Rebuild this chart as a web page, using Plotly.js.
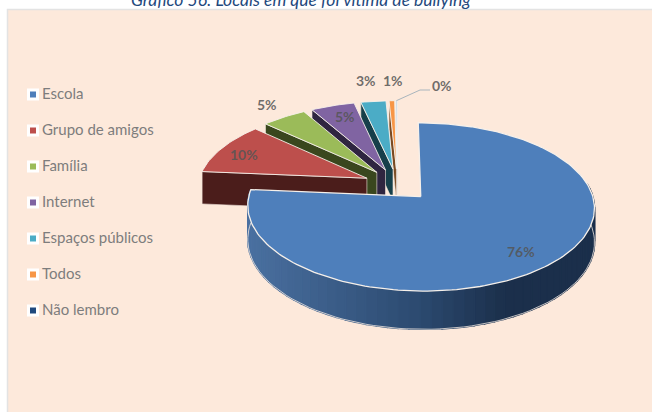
<!DOCTYPE html>
<html><head><meta charset="utf-8">
<script src="https://cdn.plot.ly/plotly-3.0.1.min.js"></script>
<style>html,body{margin:0;padding:0;background:#fff;overflow:hidden}</style>
</head><body><div id="chart" style="width:652px;height:412px"></div>
<script>
const categories = ["Escola","Grupo de amigos","Família","Internet","Espaços públicos","Todos","Não lembro"];
const values = [75.6,10.4,4.8,4.7,2.7,0.6,0.2];
const valueLabels = ["76%","10%","5%","5%","3%","1%","0%"];
const colors = ["#4e7fbb","#bd4f4c","#9bbb59","#8064a2","#4bacc6","#f79646","#1f497d"];
const faceColors = ["#2c4a70","#4b1d1b","#3a471e","#2f2540","#163f4a","#7a4a22","#c9d6e4"];
const labelAnchors = [[521,251],[244,154],[267,104],[345,116],[366,80],[393,80],[442,85]];
const legendTop = 94.5, legendStep = 36, legendX = 33;

// projection of the tilted pie
const R = 169, A = 80, K = 0.12, OX = 397.5, OY = 184.6, EXPLODE = 0.2, DEPTH = 33;
const proj = (u,v,drop) => {
  const s = 1/(1+K*v);
  return [OX + R*u*s, OY - A*v*s + (drop?DEPTH*s:0)];
};
const total = values.reduce((a,b)=>a+b,0);
const traces = [];
const poly = (pts,fill,line,lw) => traces.push({
  type:"scatter",mode:"lines",x:pts.map(p=>p[0]),y:pts.map(p=>p[1]),
  fill:"toself",fillcolor:fill,line:{color:line,width:lw},hoverinfo:"skip",showlegend:false});
const path = (pts,line,lw) => traces.push({
  type:"scatter",mode:"lines",x:pts.map(p=>p[0]),y:pts.map(p=>p[1]),
  line:{color:line,width:lw},hoverinfo:"skip",showlegend:false});
const mix = (a,b,t)=>"rgb("+a.map((c,i)=>Math.round(c+(b[i]-c)*t)).join(",")+")";

let acc = 0;
const slices = values.map((v,i)=>{
  const a0 = acc/total*2*Math.PI; acc += v;
  const a1 = acc/total*2*Math.PI; const m=(a0+a1)/2;
  return {i,a0,a1,cu:EXPLODE*Math.sin(m),cv:EXPLODE*Math.cos(m)};
});
const rim = (s,th,drop)=>proj(s.cu+Math.sin(th),s.cv+Math.cos(th),drop);

// back slices first, right to left, then the large front slice
[6,5,4,3,2,1,0].forEach(idx=>{
  const s = slices[idx];
  const apex = proj(s.cu,s.cv,false), apexD = proj(s.cu,s.cv,true);
  if(idx!==0){
    poly([apex,rim(s,s.a0,false),rim(s,s.a0,true),apexD,apex],faceColors[idx],"#f1e6dd",0.6);
  } else {
    const N=60, from=Math.PI*0.45, to=s.a1;
    const L=[74,112,160], M=[44,74,112], D=[27,47,75];
    for(let k=0;k<N;k++){
      const t0=from+(to-from)*k/N, t1=from+(to-from)*(k+1)/N;
      const pts=[rim(s,t0,false),rim(s,t1,false),rim(s,t1,true),rim(s,t0,true)];
      pts.push(pts[0]);
      const f=Math.min(1,Math.max(0,(pts[0][0]-250)/346));
      const c=f<0.5?mix(L,M,f/0.5):mix(M,D,Math.min(1,(f-0.5)/0.25));
      poly(pts,c,c,1.6);
    }
    const edge=[];
    for(let k=0;k<=80;k++){const t=from+(to-from)*k/80; edge.push(rim(s,t,true));}
    path(edge,"#efe6df",0.8);
  }
  const top=[apex];
  const n=Math.max(4,Math.ceil((s.a1-s.a0)*40));
  for(let k=0;k<=n;k++) top.push(rim(s,s.a0+(s.a1-s.a0)*k/n,false));
  top.push(apex);
  poly(top,idx===6?"#c9d6e4":colors[idx],"#f6f0ea",idx===0?1.3:0.9);
});

// leader line of the smallest slice
const tip = slices[6]; const tipAt = rim(tip,(tip.a0+tip.a1)/2,false);
path([tipAt,[420,90],[430,90]],"#a9b5bd",1);

// legend
const legendY = categories.map((_,i)=>legendTop+i*legendStep);
traces.push({type:"scatter",mode:"markers",x:categories.map(()=>legendX),y:legendY,
  marker:{symbol:"square",size:12,color:"#ffffff"},hoverinfo:"skip",showlegend:false});
traces.push({type:"scatter",mode:"markers",x:categories.map(()=>legendX),y:legendY,
  marker:{symbol:"square",size:6,color:colors},hoverinfo:"skip",showlegend:false});
traces.push({type:"scatter",mode:"text",x:categories.map(()=>legendX+9),y:legendY.map(y=>y+0.5),text:categories,
  textposition:"middle right",textfont:{family:"Lato, Carlito, sans-serif",size:15,color:"#7d7d7d"},
  hoverinfo:"skip",showlegend:false});

const layout = {
  width:652,height:412,margin:{l:0,r:0,t:0,b:0},paper_bgcolor:"#ffffff",plot_bgcolor:"rgba(0,0,0,0)",
  showlegend:false,
  xaxis:{range:[0,652],visible:false,fixedrange:true},
  yaxis:{range:[412,0],visible:false,fixedrange:true},
  shapes:[{type:"rect",layer:"below",xref:"x",yref:"y",x0:7.5,y0:9.5,x1:660,y1:420,
    fillcolor:"#fde9db",line:{color:"#e3e3e3",width:1.5}}],
  annotations:[
    {text:"<i>Gráfico 56: Locais em que foi vítima de bullying</i>",xref:"paper",yref:"paper",x:0.4617,y:1,
     showarrow:false,xanchor:"center",yanchor:"middle",yshift:1,
     font:{family:"Lato, Carlito, sans-serif",size:17.5,color:"#1f497d"}}
  ].concat(valueLabels.map((t,i)=>({
     text:"<b>"+t+"</b>",xref:"x",yref:"y",x:labelAnchors[i][0],y:labelAnchors[i][1],showarrow:false,
     xanchor:"center",yanchor:"middle",
     font:{family:"Lato, Carlito, sans-serif",size:14,color:"rgba(85,85,85,0.85)"}})))
};
Plotly.newPlot("chart",traces,layout,{displayModeBar:false,staticPlot:true});
</script></body></html>
